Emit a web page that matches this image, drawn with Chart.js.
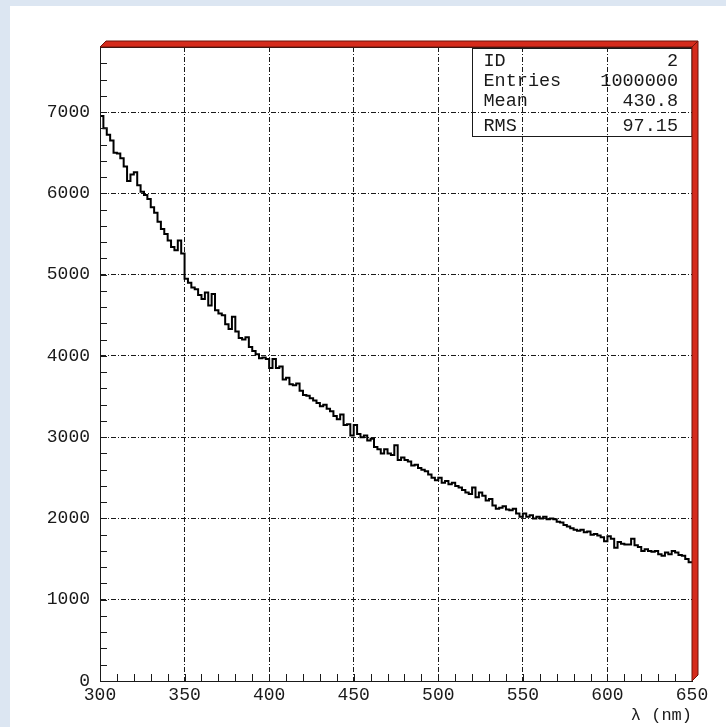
<!DOCTYPE html>
<html>
<head>
<meta charset="utf-8">
<script src="https://cdn.jsdelivr.net/npm/chart.js@4.4.1/dist/chart.umd.min.js"></script>
<style>
  html, body { margin: 0; padding: 0; background: #dce6f2; }
  canvas { display: block; }
</style>
</head>
<body>
<canvas id="histo" width="726" height="727"></canvas>
<script>
// --- ДАНІ ---
const lambdaMin = 300;
const lambdaMax = 650;
const binWidth = 2; // нм на бін

// вміст бінів, 300..650 нм по 2 нм
const counts = [
  6950, 6800, 6720, 6650, 6500, 6490, 6430, 6330, 6150, 6230,
  6260, 6100, 6020, 5980, 5930, 5830, 5760, 5650, 5560, 5500,
  5420, 5340, 5300, 5420, 5260, 4950, 4900, 4840, 4820, 4750,
  4700, 4780, 4620, 4760, 4560, 4520, 4500, 4390, 4330, 4480,
  4300, 4220, 4200, 4230, 4110, 4060, 4020, 3970, 3980, 3960,
  3850, 3960, 3850, 3870, 3710, 3730, 3650, 3640, 3660, 3570,
  3520, 3510, 3480, 3450, 3420, 3380, 3400, 3350, 3320, 3260,
  3220, 3280, 3150, 3160, 3020, 3150, 3040, 3000, 3020, 2960,
  2980, 2880, 2850, 2800, 2850, 2800, 2780, 2900, 2720, 2750,
  2720, 2700, 2650, 2660, 2620, 2600, 2580, 2540, 2500, 2470,
  2500, 2440, 2460, 2420, 2440, 2400, 2380, 2350, 2320, 2300,
  2380, 2260, 2320, 2280, 2220, 2240, 2160, 2120, 2130, 2150,
  2110, 2100, 2120, 2060, 2020, 2060, 2020, 2040, 2000, 2020,
  2000, 2020, 1990, 2000, 1990, 1960, 1950, 1920, 1900, 1880,
  1860, 1850, 1860, 1830, 1840, 1800, 1810, 1790, 1770, 1720,
  1780, 1750, 1640, 1710, 1690, 1680, 1680, 1750, 1670, 1650,
  1600, 1620, 1600, 1590, 1600, 1560, 1540, 1580, 1560, 1600,
  1580, 1550, 1540, 1500, 1460
];

const xTicks = [300, 350, 400, 450, 500, 550, 600, 650];
const yTicks = [0, 1000, 2000, 3000, 4000, 5000, 6000, 7000];
const yMax = 7800;
const xMinorStep = 10;
const yMinorStep = 200;

const statsLabels = ['ID', 'Entries', 'Mean', 'RMS'];
const statsValues = ['2', '1000000', '430.8', '97.15'];
const axisTitle = 'λ (nm)';

// --- СТИЛІ ---
const MONO = "'Liberation Mono', 'DejaVu Sans Mono', monospace";
const INK = '#1a1a1a';
const PAGE_BG = '#dce6f2';
const FRAME_RED = '#d52b1c';
const GRID_DASH = [5, 2, 1, 2];

// точки гістограми: ліві краї бінів + правий край останнього
const points = counts.map((c, i) => ({ x: lambdaMin + i * binWidth, y: c }));
points.push({ x: lambdaMax, y: counts[counts.length - 1] });

// фон: блакитна рамка + біла панель
const backdrop = {
  id: 'backdrop',
  beforeDraw(chart) {
    const { ctx, width, height } = chart;
    ctx.save();
    ctx.fillStyle = PAGE_BG;
    ctx.fillRect(0, 0, width, height);
    ctx.fillStyle = '#ffffff';
    ctx.fillRect(10, 6, width - 10, height - 6);
    ctx.restore();
  }
};

// дрібні риски на осях, рамка, червоний "3D" бортик, stats box
const paw = {
  id: 'paw',
  afterDatasetsDraw(chart) {
    const { ctx, chartArea: a, scales: { x, y } } = chart;
    ctx.save();
    ctx.strokeStyle = INK;
    ctx.lineWidth = 1;
    ctx.beginPath();
    for (let v = 0; v <= yMax; v += yMinorStep) {
      const py = Math.round(y.getPixelForValue(v)) + 0.5;
      ctx.moveTo(a.left, py);
      ctx.lineTo(a.left + 7, py);
    }
    for (let v = lambdaMin; v <= lambdaMax; v += xMinorStep) {
      const px = Math.round(x.getPixelForValue(v)) + 0.5;
      ctx.moveTo(px, a.bottom);
      ctx.lineTo(px, a.bottom - 7);
    }
    ctx.stroke();

    // рамка області графіка
    ctx.strokeRect(a.left + 0.5, a.top + 0.5, a.right - a.left, a.bottom - a.top);

    // stats box (прозорий, сітка видно крізь нього)
    const bx = Math.round(x.getPixelForValue(520)) + 0.5;
    const by = a.top + 1.5;
    const rows = [13, 33, 53, 78];
    ctx.strokeRect(bx, by, a.right - bx, 88);
    ctx.fillStyle = INK;
    ctx.font = `18.5px ${MONO}`;
    ctx.textBaseline = 'middle';
    statsLabels.forEach((lab, i) => {
      const cy = by + rows[i];
      ctx.textAlign = 'left';
      ctx.fillText(lab, bx + 11, cy);
      ctx.textAlign = 'right';
      ctx.fillText(statsValues[i], a.right - 14, cy);
    });

    // червоний бортик зверху і справа
    const d = 6;
    ctx.fillStyle = FRAME_RED;
    ctx.strokeStyle = '#6e140b';
    ctx.beginPath();
    ctx.moveTo(a.left, a.top);
    ctx.lineTo(a.left + d, a.top - d);
    ctx.lineTo(a.right + d, a.top - d);
    ctx.lineTo(a.right, a.top);
    ctx.closePath();
    ctx.fill();
    ctx.stroke();
    ctx.beginPath();
    ctx.moveTo(a.right, a.top);
    ctx.lineTo(a.right + d, a.top - d);
    ctx.lineTo(a.right + d, a.bottom - d);
    ctx.lineTo(a.right, a.bottom);
    ctx.closePath();
    ctx.fill();
    ctx.stroke();
    ctx.restore();
  }
};

const gridColor = (edges) => (c) =>
  (c.tick && edges.includes(c.tick.value)) ? 'rgba(0,0,0,0)' : INK;

new Chart(document.getElementById('histo'), {
  type: 'line',
  data: {
    datasets: [{
      data: points,
      stepped: true,
      borderColor: '#000',
      borderWidth: 2,
      pointRadius: 0,
      fill: false
    }]
  },
  options: {
    responsive: false,
    animation: false,
    layout: { padding: { top: 47, right: 34, left: 0, bottom: 0 } },
    plugins: { legend: { display: false }, tooltip: { enabled: false } },
    scales: {
      x: {
        type: 'linear',
        min: lambdaMin,
        max: lambdaMax,
        afterBuildTicks: (s) => { s.ticks = xTicks.map(v => ({ value: v })); },
        afterFit: (s) => { s.height = 46; },
        ticks: {
          color: INK,
          font: { family: MONO, size: 18 },
          padding: 3,
          maxRotation: 0,
          autoSkip: false,
          callback: (v) => String(v)
        },
        grid: { color: gridColor([lambdaMin, lambdaMax]), lineWidth: 1, drawTicks: false },
        border: { display: true, color: INK, width: 1, dash: GRID_DASH },
        title: {
          display: true,
          text: axisTitle,
          align: 'end',
          color: INK,
          font: { family: MONO, size: 17 },
          padding: { top: 0, bottom: 1 }
        }
      },
      y: {
        type: 'linear',
        min: 0,
        max: yMax,
        afterBuildTicks: (s) => { s.ticks = yTicks.map(v => ({ value: v })); },
        afterFit: (s) => { s.width = 100; },
        ticks: {
          color: INK,
          font: { family: MONO, size: 18 },
          padding: 10,
          callback: (v) => String(v)
        },
        grid: { color: gridColor([0]), lineWidth: 1, drawTicks: false },
        border: { display: true, color: INK, width: 1, dash: GRID_DASH }
      }
    }
  },
  plugins: [backdrop, paw]
});
</script>
</body>
</html>
